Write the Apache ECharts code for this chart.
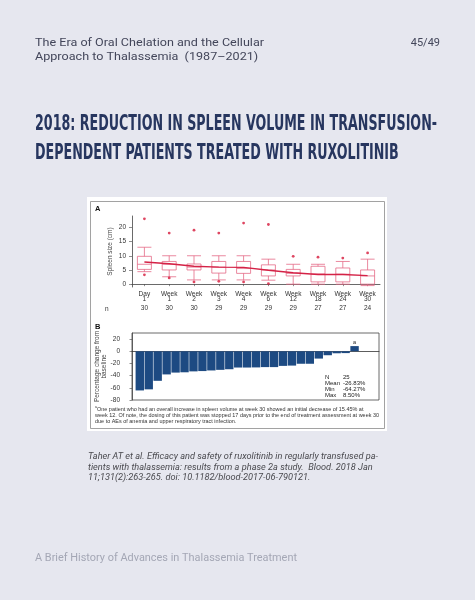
<!DOCTYPE html>
<html><head><meta charset="utf-8">
<script src="https://cdn.jsdelivr.net/npm/echarts@6/dist/echarts.min.js"></script>
<style>html,body{margin:0;padding:0;background:#e6e7ef}#c{width:475px;height:600px}</style>
</head><body><div id="c"></div><script>
// ---- data ----
const timepoints = ['Day 1','Week 1','Week 2','Week 3','Week 4','Week 6','Week 12','Week 18','Week 24','Week 30'];
const nPatients = [30,30,30,29,29,29,29,27,27,24];
// [min, Q1, median, Q3, max] spleen size (cm)
const spleenBox = [
  [4.4,5.2,7.0,9.8,13],
  [2.6,5.0,7.0,8.0,10],
  [1.5,5.0,6.0,7.1,10],
  [1.5,3.9,6.0,8.0,10],
  [1.5,3.8,5.5,8.0,10],
  [1.4,2.9,5.0,6.8,8.8],
  [0,2.9,3.8,5.2,7],
  [0,0.8,3.6,6.3,7],
  [0,0.8,3.5,5.7,8],
  [-0.5,0,2.9,5.0,8.8]
];
const spleenOutliers = [[0,23],[0,3.3],[1,18],[1,2.2],[2,19],[2,0.8],[3,18],[3,1],[4,21.5],[4,0.8],[5,21],[5,0.2],[6,9.8],[7,9.5],[8,9.2],[9,11]];
const spleenMean = [7.8,7.2,6.3,6.0,5.9,4.9,4.0,3.4,3.4,3.0];
const spleenTicks = [0,5,10,15,20];
const pctChange = [-64.3,-62.5,-48.5,-38,-35,-34.5,-33,-32.5,-31.5,-30.5,-29.5,-26.7,-26.7,-26.5,-26,-26,-24,-23.5,-20.5,-20.5,-12,-6.5,-3.3,-3,8.5];
const pctTicks = [-80,-60,-40,-20,0,20];
const statLabels = ['N','Mean','Min','Max'];
const statValues = ['25','-26.83%','-64.27%','8.50%'];

// ---- helpers ----
const mctx = document.createElement('canvas').getContext('2d');
function measure(text, font){ mctx.font = font; return mctx.measureText(text).width; }
function txt(text, x, y, font, fill, sx, align){
  return {type:'text', x:x, y:y, scaleX: sx||1, z:10,
    style:{text:text, font:font, fill:fill, textAlign: align||'left', textVerticalAlign:'middle'}};
}

const titleFont = "bold 21px 'Liberation Sans Narrow','DejaVu Sans Condensed','Liberation Sans',sans-serif";
const t1 = '2018: REDUCTION IN SPLEEN VOLUME IN TRANSFUSION-';
const t2 = 'DEPENDENT PATIENTS TREATED WITH RUXOLITINIB';
const tS = 402 / measure(t1, titleFont);

const hFont = "11px Roboto, sans-serif";
const h1 = 'The Era of Oral Chelation and the Cellular';
const h2 = 'Approach to Thalassemia  (1987\u20132021)';
const hS = 229 / measure(h1, hFont);

const cFont = "italic 9px Roboto, sans-serif";
const c1 = 'Taher AT et al. Efficacy and safety of ruxolitinib in regularly transfused pa-';
const c2 = 'tients with thalassemia: results from a phase 2a study.  Blood. 2018 Jan';
const c3 = '11;131(2):263-265. doi: 10.1182/blood-2017-06-790121.';
const cS = 290 / measure(c1, cFont);

const fFont = "10.5px Roboto, sans-serif";
const f1 = 'A Brief History of Advances in Thalassemia Treatment';
const fS = 262 / measure(f1, fFont);

const nFont = "5px 'Liberation Sans', Arial, sans-serif";
const n1 = 'One patient who had an overall increase in spleen volume at week 30 showed an initial decrease of 15.45% at';
const n2 = 'week 12. Of note, the dosing of this patient was stopped 17 days prior to the end of treatment assessment at week 30';
const n3 = 'due to AEs of anemia and upper respiratory tract infection.';
const nS = 284 / measure(n2, nFont);

const sFont = "6px 'Liberation Sans', Arial, sans-serif";
const axFont = {fontFamily:"'Liberation Sans', Arial, sans-serif", fontSize:6.5, color:'#333'};

const graphics = [
  {type:'rect', z:-10, shape:{x:87,y:197,width:300,height:234}, style:{fill:'#ffffff'}},
  {type:'rect', z:-9, shape:{x:90.5,y:201.5,width:294,height:227}, style:{fill:'none', stroke:'#8a8a8a', lineWidth:0.8}},
  txt(h1, 35, 43, hFont, '#43465a', hS),
  txt(h2, 35, 57.5, hFont, '#43465a', hS),
  txt('45/49', 440, 43, hFont, '#43465a', 1, 'right'),
  txt(t1, 35, 124.5, titleFont, '#27365f', tS),
  txt(t2, 35, 153.5, titleFont, '#27365f', tS),
  txt(c1, 88, 457, cFont, '#4a4a4f', cS),
  txt(c2, 88, 467.5, cFont, '#4a4a4f', cS),
  txt(c3, 88, 478, cFont, '#4a4a4f', cS),
  txt(f1, 35, 558, fFont, '#a4a7b5', fS),
  txt('A', 95, 209, "bold 7.5px 'Liberation Sans', Arial, sans-serif", '#111'),
  txt('B', 95, 327, "bold 7.5px 'Liberation Sans', Arial, sans-serif", '#111'),
  txt('n', 105, 309, "6.5px 'Liberation Sans', Arial, sans-serif", '#333'),
  txt('a', 95, 407.5, "3.5px 'Liberation Sans', Arial, sans-serif", '#333'),
  txt(n1, 97, 409.3, nFont, '#333', nS),
  txt(n2, 95, 415.6, nFont, '#333', nS),
  txt(n3, 95, 421.8, nFont, '#333', nS)
];
statLabels.forEach((l,i)=>{
  graphics.push(txt(l, 325, 377.3 + i*6, sFont, '#222'));
  graphics.push(txt(statValues[i], 343, 377.3 + i*6, sFont, '#222'));
});

const chart = echarts.init(document.getElementById('c'), null, {renderer:'canvas'});
chart.setOption({
  backgroundColor:'#e6e7ef',
  animation:false,
  graphic: graphics,
  grid:[
    {left:132, top:216, width:248, height:71},
    {left:132, top:333, width:247, height:67, show:true, borderColor:'#444', borderWidth:0.8, backgroundColor:'transparent'}
  ],
  xAxis:[
    {type:'category', gridIndex:0, data:timepoints, boundaryGap:true,
      axisLine:{lineStyle:{color:'#444', width:0.8}},
      axisTick:{show:true, alignWithLabel:true, length:2, lineStyle:{color:'#444', width:0.6}},
      axisLabel:Object.assign({margin:4, lineHeight:5.8, interval:0, formatter:v=>v.replace(' ','\n')}, axFont)},
    {type:'category', gridIndex:0, data:timepoints, position:'bottom', offset:18,
      axisLine:{show:false}, axisTick:{show:false},
      axisLabel:Object.assign({margin:0, interval:0, formatter:(v,i)=>String(nPatients[i])}, axFont)},
    {type:'value', gridIndex:1, min:0.13, max:27.73, show:true,
      axisLine:{show:true, onZero:true, lineStyle:{color:'#333', width:0.8}},
      axisTick:{show:false}, axisLabel:{show:false}, splitLine:{show:false}}
  ],
  yAxis:[
    {type:'value', gridIndex:0, min:-1, max:24,
      name:'Spleen size (cm)', nameLocation:'middle', nameGap:18, nameMoveOverlap:false,
      nameTextStyle:Object.assign({}, axFont, {color:'#444'}),
      axisLine:{show:true, lineStyle:{color:'#444', width:0.8}},
      axisTick:{show:true, length:3, customValues:spleenTicks, lineStyle:{color:'#444', width:0.6}},
      axisLabel:Object.assign({margin:6, customValues:spleenTicks}, axFont),
      splitLine:{show:false}},
    {type:'value', gridIndex:1, min:-80, max:30,
      name:'Percentage change from\nbaseline', nameLocation:'middle', nameGap:25, nameMoveOverlap:false,
      nameTextStyle:Object.assign({}, axFont, {color:'#444', lineHeight:6.5}),
      axisLine:{show:true, lineStyle:{color:'#444', width:0.8}},
      axisTick:{show:true, length:2.5, customValues:pctTicks, lineStyle:{color:'#444', width:0.6}},
      axisLabel:Object.assign({margin:12, customValues:pctTicks}, axFont),
      splitLine:{show:false}}
  ],
  series:[
    {type:'boxplot', xAxisIndex:0, yAxisIndex:0, data:spleenBox, boxWidth:[14,14],
      itemStyle:{color:'rgba(255,255,255,0)', borderColor:'#e56a86', borderWidth:0.8},
      emphasis:{disabled:true}},
    {type:'line', xAxisIndex:0, yAxisIndex:0, data:spleenMean, symbol:'none', z:5,
      lineStyle:{color:'#d42246', width:1.4}},
    {type:'scatter', xAxisIndex:0, yAxisIndex:0, data:spleenOutliers, symbolSize:2.8, z:6,
      itemStyle:{color:'#d6183a'}},
    {type:'bar', xAxisIndex:2, yAxisIndex:1, barWidth:8.4,
      data:pctChange.map((v,i)=> i===pctChange.length-1
        ? {value:[i+1,v], label:{show:true, position:'top', distance:1, formatter:'a', fontSize:5.5, color:'#222'}}
        : [i+1,v]),
      itemStyle:{color:'#1d4a82'}}
  ]
});
</script></body></html>
